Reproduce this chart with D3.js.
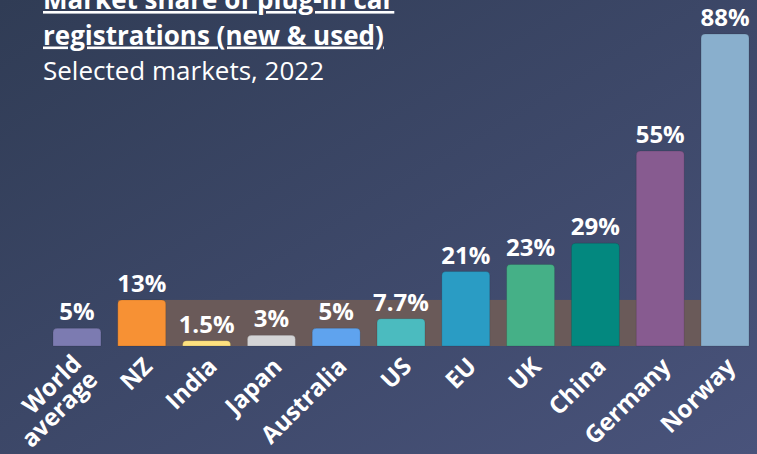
<!DOCTYPE html>
<html>
<head>
<meta charset="utf-8">
<script src="https://cdn.jsdelivr.net/npm/d3@7"></script>
<style>
  html, body { margin: 0; padding: 0; overflow: hidden; background: #3a4666; }
  svg { display: block; font-family: "Open Sans", "Noto Sans", sans-serif; }
</style>
</head>
<body>
<svg id="chart" width="757" height="454"></svg>
<script>
// Plug-in car share of registrations by market, 2022
const markets = ["World average", "NZ", "India", "Japan", "Australia", "US", "EU", "UK", "China", "Germany", "Norway"];
const shares = [5, 13, 1.5, 3, 5, 7.7, 21, 23, 29, 55, 88];
const shareLabels = ["5%", "13%", "1.5%", "3%", "5%", "7.7%", "21%", "23%", "29%", "55%", "88%"];
const barColors = ["#7c7bb1", "#f79134", "#fde17f", "#d4d4d6", "#5fa3ee", "#4bbbbf", "#2a9cc4", "#45b087", "#03887f", "#875b90", "#89afcd"];
const highlightMarket = "NZ";
const titleLines = ["Market share of plug-in car", "registrations (new & used)"];
const subtitle = "Selected markets, 2022";

const W = 757, H = 454;
const svg = d3.select("#chart");

// background gradient
const defs = svg.append("defs");
const grad = defs.append("linearGradient").attr("id", "bg")
  .attr("x1", "0%").attr("y1", "0%").attr("x2", "100%").attr("y2", "100%");
grad.append("stop").attr("offset", "0%").attr("stop-color", "#303c55");
grad.append("stop").attr("offset", "100%").attr("stop-color", "#49537b");
svg.append("rect").attr("width", W).attr("height", H).attr("fill", "url(#bg)");

const data = markets.map((m, i) => ({ market: m, value: shares[i], label: shareLabels[i], color: barColors[i] }));

const x = d3.scaleBand().domain(markets).range([53, 749]).paddingInner(0.26).paddingOuter(0);
const y = d3.scaleLinear().domain([0, d3.max(shares)]).range([346, 34]);

// band at the NZ level, behind the bars from NZ onwards
const ref = data.find(d => d.market === highlightMarket);
svg.append("rect")
  .attr("x", x(highlightMarket))
  .attr("y", y(ref.value))
  .attr("width", x(markets[markets.length - 1]) + x.bandwidth() - x(highlightMarket))
  .attr("height", y(0) - y(ref.value))
  .attr("fill", "#6a5a59");

function topRounded(x0, y0, w, h, r) {
  r = Math.min(r, h, w / 2);
  return `M${x0},${y0 + h}V${y0 + r}Q${x0},${y0} ${x0 + r},${y0}H${x0 + w - r}Q${x0 + w},${y0} ${x0 + w},${y0 + r}V${y0 + h}Z`;
}

svg.append("g").selectAll("path").data(data).join("path")
  .attr("d", d => topRounded(x(d.market), y(d.value), x.bandwidth(), y(0) - y(d.value), 4))
  .attr("fill", d => d.color)
  .attr("stroke", "rgba(0,0,0,0.12)")
  .attr("stroke-width", 1);

// value labels
svg.append("g").selectAll("text").data(data).join("text")
  .attr("x", d => x(d.market) + x.bandwidth() / 2)
  .attr("y", d => y(d.value) - 8)
  .attr("text-anchor", "middle")
  .attr("font-size", 24).attr("font-weight", 700).attr("fill", "#ffffff")
  .text(d => d.label);

// rotated category labels
const xAxis = svg.append("g").attr("transform", `translate(0,${y(0)})`)
  .call(d3.axisBottom(x).tickSize(0).tickFormat(""));
xAxis.select(".domain").remove();

const catLabels = svg.append("g").selectAll("text").data(data).join("text")
  .attr("transform", d => {
    const multi = d.market.includes(" ");
    const dx = multi ? 6 : 12, dy = multi ? 19 : 22;
    return `translate(${x(d.market) + x.bandwidth() / 2 + dx},${y(0) + dy}) rotate(-45)`;
  })
  .attr("text-anchor", "end")
  .attr("font-size", 24).attr("font-weight", 700).attr("fill", "#ffffff");
catLabels.each(function (d) {
  const words = d.market.split(" ");
  const t = d3.select(this);
  if (words.length === 1) { t.text(d.market); return; }
  words.forEach((w, i) => {
    t.append("tspan").attr("x", 0).attr("dy", i === 0 ? "0em" : "0.95em").text(w);
  });
});

// title
const title = svg.append("g").attr("transform", "translate(43,0)").attr("fill", "#ffffff");
titleLines.forEach((line, i) => {
  title.append("text").attr("y", 9 + i * 35.5)
    .attr("font-size", 26).attr("font-weight", 700)
    .attr("text-decoration", "underline")
    .text(line);
});
title.append("text").attr("y", 80).attr("font-size", 26).attr("font-weight", 400).text(subtitle);
</script>
</body>
</html>
